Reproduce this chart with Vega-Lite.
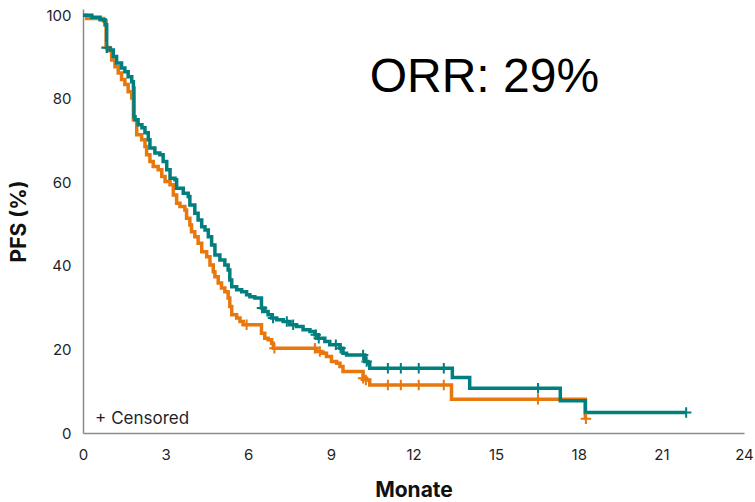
{
  "$schema": "https://vega.github.io/schema/vega-lite/v6.json",
  "width": 661,
  "height": 424,
  "autosize": {"type": "none"},
  "padding": {"left": 83, "top": 9, "right": 11, "bottom": 69},
  "background": "white",
  "config": {
    "view": {"stroke": null},
    "axis": {"grid": false, "ticks": false, "domainColor": "#8a8a8a", "domainWidth": 1.5, "labelFont": "Inter", "labelFontSize": 15, "labelColor": "#1f1f2a", "titleFont": "Inter", "titleFontWeight": "bold", "titleFontSize": 21, "titleColor": "#111"}
  },
  "datasets": {
    "curves": [
      {"arm": "orange", "t": 0, "s": 100},
      {"arm": "orange", "t": 0.13, "s": 99.2},
      {"arm": "orange", "t": 0.75, "s": 98.6},
      {"arm": "orange", "t": 0.84, "s": 92.3},
      {"arm": "orange", "t": 0.95, "s": 91.5},
      {"arm": "orange", "t": 1.04, "s": 89.3},
      {"arm": "orange", "t": 1.16, "s": 87.7},
      {"arm": "orange", "t": 1.28, "s": 86.2},
      {"arm": "orange", "t": 1.40, "s": 84.6},
      {"arm": "orange", "t": 1.52, "s": 83.4},
      {"arm": "orange", "t": 1.64, "s": 81.7},
      {"arm": "orange", "t": 1.77, "s": 80.2},
      {"arm": "orange", "t": 1.83, "s": 75.0},
      {"arm": "orange", "t": 1.95, "s": 71.4},
      {"arm": "orange", "t": 2.13, "s": 70.2},
      {"arm": "orange", "t": 2.25, "s": 68.6},
      {"arm": "orange", "t": 2.31, "s": 66.6},
      {"arm": "orange", "t": 2.43, "s": 65.0},
      {"arm": "orange", "t": 2.55, "s": 63.8},
      {"arm": "orange", "t": 2.73, "s": 63.0},
      {"arm": "orange", "t": 2.86, "s": 61.4},
      {"arm": "orange", "t": 2.98, "s": 60.2},
      {"arm": "orange", "t": 3.16, "s": 59.4},
      {"arm": "orange", "t": 3.28, "s": 57.0},
      {"arm": "orange", "t": 3.40, "s": 55.0},
      {"arm": "orange", "t": 3.52, "s": 54.2},
      {"arm": "orange", "t": 3.70, "s": 53.4},
      {"arm": "orange", "t": 3.76, "s": 51.4},
      {"arm": "orange", "t": 3.88, "s": 49.8},
      {"arm": "orange", "t": 3.94, "s": 48.2},
      {"arm": "orange", "t": 4.06, "s": 47.0},
      {"arm": "orange", "t": 4.18, "s": 45.4},
      {"arm": "orange", "t": 4.31, "s": 43.4},
      {"arm": "orange", "t": 4.49, "s": 42.2},
      {"arm": "orange", "t": 4.61, "s": 40.2},
      {"arm": "orange", "t": 4.73, "s": 38.6},
      {"arm": "orange", "t": 4.79, "s": 37.4},
      {"arm": "orange", "t": 4.91, "s": 35.9},
      {"arm": "orange", "t": 5.03, "s": 34.7},
      {"arm": "orange", "t": 5.15, "s": 33.8},
      {"arm": "orange", "t": 5.27, "s": 32.3},
      {"arm": "orange", "t": 5.33, "s": 30.3},
      {"arm": "orange", "t": 5.40, "s": 28.3},
      {"arm": "orange", "t": 5.58, "s": 27.5},
      {"arm": "orange", "t": 5.70, "s": 26.7},
      {"arm": "orange", "t": 5.82, "s": 25.9},
      {"arm": "orange", "t": 6.48, "s": 23.9},
      {"arm": "orange", "t": 6.60, "s": 22.7},
      {"arm": "orange", "t": 6.72, "s": 22.3},
      {"arm": "orange", "t": 6.85, "s": 21.5},
      {"arm": "orange", "t": 6.91, "s": 20.3},
      {"arm": "orange", "t": 8.48, "s": 19.5},
      {"arm": "orange", "t": 8.66, "s": 19.1},
      {"arm": "orange", "t": 8.84, "s": 18.3},
      {"arm": "orange", "t": 9.02, "s": 17.1},
      {"arm": "orange", "t": 9.21, "s": 16.7},
      {"arm": "orange", "t": 9.33, "s": 15.9},
      {"arm": "orange", "t": 9.44, "s": 14.7},
      {"arm": "orange", "t": 10.17, "s": 13.1},
      {"arm": "orange", "t": 10.29, "s": 12.7},
      {"arm": "orange", "t": 10.41, "s": 11.5},
      {"arm": "orange", "t": 13.38, "s": 8.1},
      {"arm": "orange", "t": 18.24, "s": 3.6},
      {"arm": "orange", "t": 18.26, "s": 3.6},
      {"arm": "teal", "t": 0, "s": 100},
      {"arm": "teal", "t": 0.32, "s": 99.5},
      {"arm": "teal", "t": 0.62, "s": 98.9},
      {"arm": "teal", "t": 0.80, "s": 97.7},
      {"arm": "teal", "t": 0.86, "s": 92.2},
      {"arm": "teal", "t": 0.98, "s": 91.7},
      {"arm": "teal", "t": 1.10, "s": 90.1},
      {"arm": "teal", "t": 1.22, "s": 88.6},
      {"arm": "teal", "t": 1.40, "s": 87.4},
      {"arm": "teal", "t": 1.52, "s": 86.5},
      {"arm": "teal", "t": 1.64, "s": 85.3},
      {"arm": "teal", "t": 1.77, "s": 84.1},
      {"arm": "teal", "t": 1.83, "s": 82.6},
      {"arm": "teal", "t": 1.85, "s": 75.7},
      {"arm": "teal", "t": 1.89, "s": 75.0},
      {"arm": "teal", "t": 2.00, "s": 73.8},
      {"arm": "teal", "t": 2.14, "s": 73.1},
      {"arm": "teal", "t": 2.25, "s": 71.9},
      {"arm": "teal", "t": 2.37, "s": 70.2},
      {"arm": "teal", "t": 2.43, "s": 68.2},
      {"arm": "teal", "t": 2.61, "s": 67.0},
      {"arm": "teal", "t": 2.79, "s": 66.6},
      {"arm": "teal", "t": 2.91, "s": 65.0},
      {"arm": "teal", "t": 3.04, "s": 63.0},
      {"arm": "teal", "t": 3.16, "s": 61.0},
      {"arm": "teal", "t": 3.34, "s": 60.6},
      {"arm": "teal", "t": 3.40, "s": 58.6},
      {"arm": "teal", "t": 3.64, "s": 57.4},
      {"arm": "teal", "t": 3.82, "s": 56.6},
      {"arm": "teal", "t": 3.88, "s": 54.6},
      {"arm": "teal", "t": 4.06, "s": 52.6},
      {"arm": "teal", "t": 4.18, "s": 51.0},
      {"arm": "teal", "t": 4.31, "s": 49.4},
      {"arm": "teal", "t": 4.43, "s": 48.6},
      {"arm": "teal", "t": 4.55, "s": 47.0},
      {"arm": "teal", "t": 4.67, "s": 45.0},
      {"arm": "teal", "t": 4.79, "s": 42.6},
      {"arm": "teal", "t": 4.97, "s": 41.4},
      {"arm": "teal", "t": 5.15, "s": 40.2},
      {"arm": "teal", "t": 5.27, "s": 39.0},
      {"arm": "teal", "t": 5.33, "s": 36.6},
      {"arm": "teal", "t": 5.40, "s": 35.0},
      {"arm": "teal", "t": 5.58, "s": 34.3},
      {"arm": "teal", "t": 5.76, "s": 33.8},
      {"arm": "teal", "t": 5.94, "s": 33.1},
      {"arm": "teal", "t": 6.06, "s": 32.6},
      {"arm": "teal", "t": 6.24, "s": 32.3},
      {"arm": "teal", "t": 6.48, "s": 29.9},
      {"arm": "teal", "t": 6.60, "s": 29.1},
      {"arm": "teal", "t": 6.72, "s": 28.3},
      {"arm": "teal", "t": 6.85, "s": 27.5},
      {"arm": "teal", "t": 7.03, "s": 27.1},
      {"arm": "teal", "t": 7.27, "s": 26.7},
      {"arm": "teal", "t": 7.51, "s": 25.9},
      {"arm": "teal", "t": 7.75, "s": 25.5},
      {"arm": "teal", "t": 7.99, "s": 24.7},
      {"arm": "teal", "t": 8.24, "s": 24.3},
      {"arm": "teal", "t": 8.42, "s": 23.5},
      {"arm": "teal", "t": 8.54, "s": 22.7},
      {"arm": "teal", "t": 8.78, "s": 21.9},
      {"arm": "teal", "t": 8.96, "s": 21.1},
      {"arm": "teal", "t": 9.33, "s": 20.3},
      {"arm": "teal", "t": 9.44, "s": 19.1},
      {"arm": "teal", "t": 9.57, "s": 18.7},
      {"arm": "teal", "t": 10.23, "s": 17.1},
      {"arm": "teal", "t": 10.35, "s": 16.7},
      {"arm": "teal", "t": 10.41, "s": 15.5},
      {"arm": "teal", "t": 13.41, "s": 13.3},
      {"arm": "teal", "t": 14.04, "s": 10.7},
      {"arm": "teal", "t": 17.33, "s": 7.7},
      {"arm": "teal", "t": 18.24, "s": 4.9},
      {"arm": "teal", "t": 21.90, "s": 4.9}
    ],
    "censored": [
      {"arm": "orange", "t": 0.85, "s": 92.3},
      {"arm": "orange", "t": 5.94, "s": 25.9},
      {"arm": "orange", "t": 6.95, "s": 20.3},
      {"arm": "orange", "t": 8.42, "s": 20.3},
      {"arm": "orange", "t": 8.60, "s": 19.5},
      {"arm": "orange", "t": 10.17, "s": 13.1},
      {"arm": "orange", "t": 10.27, "s": 12.7},
      {"arm": "orange", "t": 11.07, "s": 11.5},
      {"arm": "orange", "t": 11.54, "s": 11.5},
      {"arm": "orange", "t": 12.19, "s": 11.5},
      {"arm": "orange", "t": 13.10, "s": 11.5},
      {"arm": "orange", "t": 16.52, "s": 8.1},
      {"arm": "orange", "t": 18.26, "s": 3.4},
      {"arm": "teal", "t": 0.87, "s": 92.2},
      {"arm": "teal", "t": 6.50, "s": 29.9},
      {"arm": "teal", "t": 6.90, "s": 27.5},
      {"arm": "teal", "t": 7.40, "s": 26.7},
      {"arm": "teal", "t": 7.63, "s": 25.9},
      {"arm": "teal", "t": 8.45, "s": 23.5},
      {"arm": "teal", "t": 8.56, "s": 22.7},
      {"arm": "teal", "t": 9.18, "s": 21.1},
      {"arm": "teal", "t": 9.35, "s": 20.3},
      {"arm": "teal", "t": 10.17, "s": 18.7},
      {"arm": "teal", "t": 10.30, "s": 17.1},
      {"arm": "teal", "t": 11.07, "s": 15.5},
      {"arm": "teal", "t": 11.54, "s": 15.5},
      {"arm": "teal", "t": 12.19, "s": 15.5},
      {"arm": "teal", "t": 13.10, "s": 15.5},
      {"arm": "teal", "t": 16.52, "s": 10.7},
      {"arm": "teal", "t": 21.90, "s": 4.9}
    ],
    "notes": [
      {"t": 10.41, "s": 81.7, "label": "ORR: 29%", "kind": "big"},
      {"t": 0.44, "s": 2.1, "label": "+ Censored", "kind": "small"}
    ]
  },
  "layer": [
    {
      "data": {"name": "curves"},
      "transform": [{"filter": "datum.arm === 'orange'"}],
      "mark": {"type": "line", "interpolate": "step-after", "strokeWidth": 3.5, "color": "#E8770E"},
      "encoding": {
        "x": {"field": "t", "type": "quantitative", "scale": {"domain": [0, 24], "nice": false, "zero": false}, "axis": {"values": [0, 3, 6, 9, 12, 15, 18, 21, 24], "title": "Monate", "labelPadding": 14, "titlePadding": 17, "labelFlush": false}},
        "y": {"field": "s", "type": "quantitative", "scale": {"domain": [0, 101.5], "nice": false}, "axis": {"values": [0, 20, 40, 60, 80, 100], "title": "PFS (%)", "labelPadding": 12, "titlePadding": 16}}
      }
    },
    {
      "data": {"name": "curves"},
      "transform": [{"filter": "datum.arm === 'teal'"}],
      "mark": {"type": "line", "interpolate": "step-after", "strokeWidth": 3.5, "color": "#007F7E"},
      "encoding": {
        "x": {"field": "t", "type": "quantitative"},
        "y": {"field": "s", "type": "quantitative"}
      }
    },
    {
      "data": {"name": "censored"},
      "mark": {"type": "point", "shape": "M-1,0L1,0M0,-1L0,1", "filled": false, "strokeWidth": 2, "size": 110, "opacity": 1},
      "encoding": {
        "x": {"field": "t", "type": "quantitative"},
        "y": {"field": "s", "type": "quantitative"},
        "color": {"field": "arm", "type": "nominal", "scale": {"domain": ["orange", "teal"], "range": ["#E8770E", "#007F7E"]}, "legend": null}
      }
    },
    {
      "data": {"name": "notes"},
      "transform": [{"filter": "datum.kind === 'big'"}],
      "mark": {"type": "text", "font": "Liberation Sans", "fontSize": 48, "align": "left", "baseline": "alphabetic", "color": "#000"},
      "encoding": {
        "x": {"field": "t", "type": "quantitative"},
        "y": {"field": "s", "type": "quantitative"},
        "text": {"field": "label"}
      }
    },
    {
      "data": {"name": "notes"},
      "transform": [{"filter": "datum.kind === 'small'"}],
      "mark": {"type": "text", "font": "Inter", "fontSize": 17, "align": "left", "baseline": "alphabetic", "color": "#1f1f2a"},
      "encoding": {
        "x": {"field": "t", "type": "quantitative"},
        "y": {"field": "s", "type": "quantitative"},
        "text": {"field": "label"}
      }
    }
  ]
}
